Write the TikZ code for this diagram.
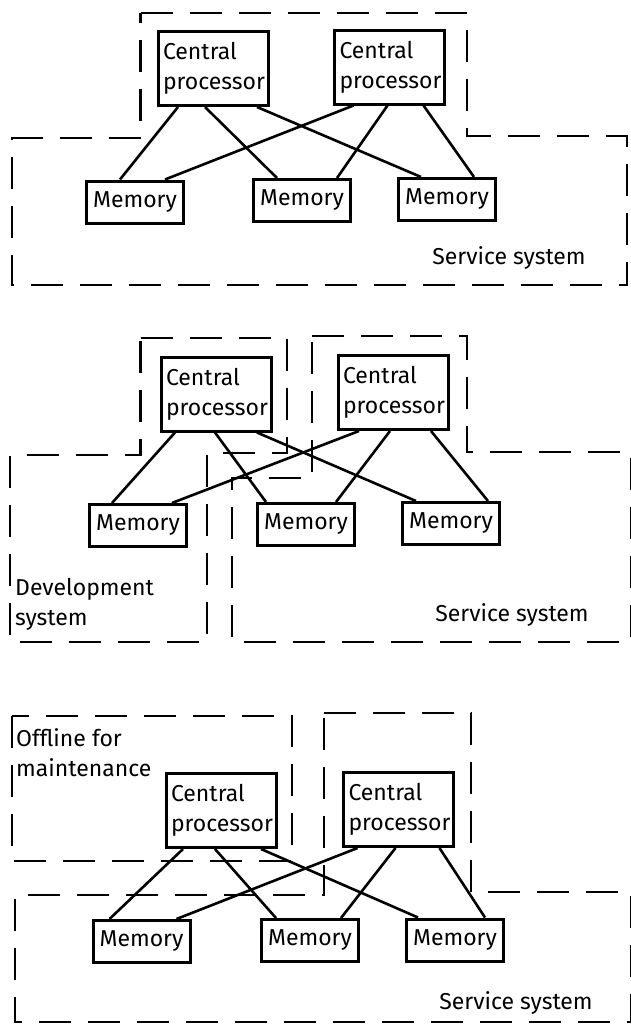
\documentclass[tikz,border=0pt]{standalone}
\usepackage{fontspec}
\setmainfont{Fira Sans}
\usepackage{tikz}
\usetikzlibrary{positioning,calc}
\tikzset{
  box/.style  ={draw, line width=3pt, inner sep=5pt, font=\fontsize{23}{30}\selectfont},
  cpu/.style  ={box, text width=100pt, align=left, minimum height=74pt},
  mem/.style  ={box, minimum width=97pt, minimum height=42pt, inner sep=2pt},
  link/.style ={line width=2.6pt},
  zone/.style ={line width=2.8pt, dash pattern=on 32pt off 17pt},
  lbl/.style  ={font=\fontsize{23}{30}\selectfont, align=left, inner sep=0pt},
}
\begin{document}
\begin{tikzpicture}[x=1pt,y=-1pt]
  \useasboundingbox (0,0) rectangle (630,1026);
  % top: both processors in service
  \node[cpu](tcpa) at (213,68.5){Central\\processor};
  \node[cpu](tcpb) at (389.5,67){Central\\processor};
  \node[mem](tmema) at (135,202){Memory};
  \node[mem](tmemb) at (302,200.5){Memory};
  \node[mem](tmemc) at (447,199.5){Memory};
  \node[lbl](tserv) at (509,258){Service system};
  \draw[link] ([xshift=-35pt]tcpa.south) -- ([xshift=-15pt]tmema.north);
  \draw[link] ([xshift=-8pt]tcpa.south) -- ([xshift=-25pt]tmemb.north);
  \draw[link] ([xshift=44pt]tcpa.south) -- ([xshift=-26pt]tmemc.north);
  \draw[link] ([xshift=-36pt]tcpb.south) -- ([xshift=30pt]tmema.north);
  \draw[link] ([xshift=-2pt]tcpb.south) -- ([xshift=35pt]tmemb.north);
  \draw[link] ([xshift=34pt]tcpb.south) -- ([xshift=27pt]tmemc.north);
  \draw[zone] (140.5,13) -- (467,13) -- (467,136) -- (627,136) -- (627,285)
    -- (12,285) -- (12,138) -- (140.5,138) -- cycle;
  % middle: development and service
  \node[cpu](mcpa) at (216,394){Central\\processor};
  \node[cpu](mcpb) at (393,392.5){Central\\processor};
  \node[mem](mmema) at (138,525.5){Memory};
  \node[mem](mmemb) at (306,524.5){Memory};
  \node[mem](mmemc) at (451,523.5){Memory};
  \node[lbl, anchor=west](mdev) at (15,604){Development\\system};
  \node[lbl](mserv) at (512,615){Service system};
  \draw[link] ([xshift=-41pt]mcpa.south) -- ([xshift=-26pt]mmema.north);
  \draw[link] ([xshift=-1pt]mcpa.south) -- ([xshift=-40pt]mmemb.north);
  \draw[link] ([xshift=41pt]mcpa.south) -- ([xshift=-35pt]mmemc.north);
  \draw[link] ([xshift=-34pt]mcpb.south) -- ([xshift=34pt]mmema.north);
  \draw[link] ([xshift=-3pt]mcpb.south) -- ([xshift=30pt]mmemb.north);
  \draw[link] ([xshift=38pt]mcpb.south) -- ([xshift=37pt]mmemc.north);
  \draw[zone] (140.5,338) -- (287,338) -- (287,453) -- (207,453) -- (207,642)
    -- (10,642) -- (10,455) -- (140.5,455) -- cycle;
  \draw[zone] (312,336) -- (467,336) -- (467,452) -- (631,452) -- (631,642)
    -- (232,642) -- (232,478) -- (312,478) -- cycle;
  % bottom: one processor offline
  \node[cpu](bcpa) at (221,810.5){Central\\processor};
  \node[cpu](bcpb) at (398.5,809.5){Central\\processor};
  \node[mem](bmema) at (141.5,941.5){Memory};
  \node[mem](bmemb) at (310,940.5){Memory};
  \node[mem](bmemc) at (455,940){Memory};
  \node[lbl, anchor=west](boff) at (16,753){Offline for\\maintenance};
  \node[lbl](bserv) at (516,1003){Service system};
  \draw[link] ([xshift=-38pt]bcpa.south) -- ([xshift=-32pt]bmema.north);
  \draw[link] ([xshift=-6pt]bcpa.south) -- ([xshift=-34pt]bmemb.north);
  \draw[link] ([xshift=40pt]bcpa.south) -- ([xshift=-37pt]bmemc.north);
  \draw[link] ([xshift=-41pt]bcpb.south) -- ([xshift=35pt]bmema.north);
  \draw[link] ([xshift=-3pt]bcpb.south) -- ([xshift=31pt]bmemb.north);
  \draw[link] ([xshift=41pt]bcpb.south) -- ([xshift=30pt]bmemc.north);
  \draw[zone] (12,716) rectangle (292,861);
  \draw[zone] (324,713) -- (471,713) -- (471,892) -- (631,892) -- (631,1022)
    -- (15,1022) -- (15,895) -- (324,895) -- cycle;
\end{tikzpicture}
\end{document}
